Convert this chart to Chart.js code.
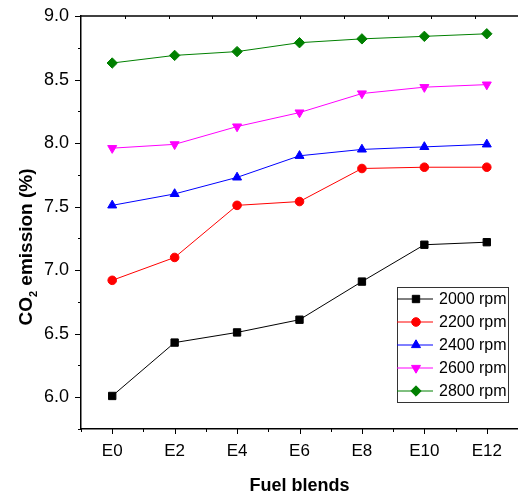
<!DOCTYPE html>
<html>
<head>
<meta charset="utf-8">
<script src="https://cdn.jsdelivr.net/npm/chart.js@4.4.1/dist/chart.umd.min.js"></script>
<style>
    html, body { margin: 0; padding: 0; background: #fff; overflow: hidden; }
    #wrap { width: 518px; height: 498px; }
</style>
</head>
<body>
<div id="wrap"><canvas id="co2Chart"></canvas></div>
<script>
// categories and their positions on the x axis
const blends = ['E0', 'E2', 'E4', 'E6', 'E8', 'E10', 'E12'];
const blendX = [0, 2, 4, 6, 8, 10, 12];

// CO2 emission (%) per engine speed
const rpm2000 = [6.01, 6.43, 6.51, 6.61, 6.91, 7.20, 7.22];
const rpm2200 = [6.92, 7.10, 7.51, 7.54, 7.80, 7.81, 7.81];
const rpm2400 = [7.51, 7.60, 7.73, 7.90, 7.95, 7.97, 7.99];
const rpm2600 = [7.96, 7.99, 8.13, 8.24, 8.39, 8.44, 8.46];
const rpm2800 = [8.63, 8.69, 8.72, 8.79, 8.82, 8.84, 8.86];

const yTicks = [6.0, 6.5, 7.0, 7.5, 8.0, 8.5, 9.0];

const FONT = 'Liberation Sans, Arial, sans-serif';

function series(label, values, color, pointStyle, radius, rotation) {
    return {
        label,
        data: values.map((v, i) => ({ x: blendX[i], y: v })),
        borderColor: color,
        backgroundColor: color,
        borderWidth: 1,
        pointStyle,
        pointRadius: radius,
        pointRotation: rotation || 0,
        pointBorderWidth: 1,
        pointBorderColor: color,
        pointBackgroundColor: color,
        tension: 0
    };
}

const isMajorY = (v) => yTicks.some((t) => Math.abs(t - v) < 1e-6);
const isMajorX = (v) => v % 2 === 0 && v >= 0 && v <= 12;

const decor = {
    id: 'decor',
    afterDraw(chart) {
        const { ctx, chartArea: a, scales: { x, y } } = chart;
        ctx.save();

        // top frame line
        ctx.strokeStyle = '#000';
        ctx.lineWidth = 1.5;
        ctx.beginPath();
        ctx.moveTo(a.left, a.top);
        ctx.lineTo(a.right + 1, a.top);
        ctx.stroke();

        // axis ticks
        ctx.lineWidth = 1;
        ctx.beginPath();
        for (let v = 5.75; v <= 9.0001; v += 0.25) {
            const py = Math.round(y.getPixelForValue(v)) + 0.5;
            ctx.moveTo(a.left, py);
            ctx.lineTo(a.left - (isMajorY(v) ? 6 : 3), py);
        }
        for (let v = -1; v <= 13; v++) {
            const px = Math.round(x.getPixelForValue(v)) + 0.5;
            ctx.moveTo(px, a.bottom);
            ctx.lineTo(px, a.bottom + (isMajorX(v) ? 5 : 3));
        }
        for (let k = 1; k < 10; k++) {
            const px = Math.round(a.left + (a.right + 1 - a.left) * k / 10) + 0.5;
            ctx.moveTo(px, a.top);
            ctx.lineTo(px, a.top + 3);
        }
        ctx.stroke();

        // axis titles
        ctx.fillStyle = '#000';
        ctx.font = 'bold 18px ' + FONT;
        ctx.textAlign = 'center';
        ctx.textBaseline = 'middle';
        ctx.fillText('Fuel blends', (a.left + a.right) / 2, 486);

        ctx.save();
        ctx.translate(27, 247);
        ctx.rotate(-Math.PI / 2);
        ctx.textAlign = 'left';
        ctx.textBaseline = 'middle';
        const big = 'bold 19px ' + FONT;
        const small = 'bold 11px ' + FONT;
        ctx.font = big;
        const w1 = ctx.measureText('CO').width;
        const w3 = ctx.measureText(' emission (%)').width;
        ctx.font = small;
        const w2 = ctx.measureText('2').width;
        let sx = -(w1 + w2 + w3) / 2;
        ctx.font = big;
        ctx.fillText('CO', sx, 0);
        sx += w1;
        ctx.font = small;
        ctx.fillText('2', sx, 7);
        sx += w2;
        ctx.font = big;
        ctx.fillText(' emission (%)', sx, 0);
        ctx.restore();

        // legend
        const lx = 397, ly = 287, lw = 111, lh = 115;
        ctx.strokeStyle = '#333';
        ctx.lineWidth = 1;
        ctx.strokeRect(lx + 0.5, ly + 0.5, lw, lh);
        ctx.font = '16px ' + FONT;
        ctx.textAlign = 'left';
        ctx.textBaseline = 'middle';
        chart.data.datasets.forEach((ds, i) => {
            const cy = ly + 12 + i * 23;
            ctx.strokeStyle = ds.borderColor;
            ctx.lineWidth = 1;
            ctx.beginPath();
            ctx.moveTo(lx, cy);
            ctx.lineTo(lx + 36, cy);
            ctx.stroke();
            ctx.fillStyle = ds.backgroundColor;
            ctx.strokeStyle = ds.borderColor;
            Chart.helpers.drawPoint(ctx, {
                pointStyle: ds.pointStyle,
                rotation: ds.pointRotation,
                radius: ds.pointRadius,
                borderWidth: 1
            }, lx + 19, cy);
            ctx.fillStyle = '#000';
            ctx.fillText(ds.label, lx + 42, cy + 1);
        });

        ctx.restore();
    }
};

new Chart(document.getElementById('co2Chart'), {
    type: 'line',
    data: {
        datasets: [
            series('2000 rpm', rpm2000, '#000000', 'rect', 5.2),
            series('2200 rpm', rpm2200, '#ff0000', 'circle', 4.3),
            series('2400 rpm', rpm2400, '#0000ff', 'triangle', 5.2),
            series('2600 rpm', rpm2600, '#ff00ff', 'triangle', 5.2, 180),
            series('2800 rpm', rpm2800, '#008000', 'rectRot', 5.2)
        ]
    },
    options: {
        responsive: true,
        maintainAspectRatio: false,
        animation: false,
        layout: { autoPadding: false, padding: { top: 16, right: 0, left: 0, bottom: 0 } },
        plugins: {
            legend: { display: false },
            tooltip: { enabled: false }
        },
        scales: {
            x: {
                type: 'linear',
                min: -1,
                max: 13,
                grid: { display: false },
                border: { color: '#000', width: 1.5 },
                ticks: {
                    stepSize: 1,
                    autoSkip: false,
                    maxRotation: 0,
                    padding: 4,
                    color: '#000',
                    font: { family: FONT, size: 17 },
                    callback: (v) => (isMajorX(v) ? blends[v / 2] : '')
                },
                afterFit: (s) => {
                    s.height = 69;
                    s.paddingLeft = 0;
                    s.paddingRight = 0;
                }
            },
            y: {
                min: 5.75,
                max: 9.0,
                grid: { display: false },
                border: { color: '#000', width: 1.5 },
                ticks: {
                    stepSize: 0.25,
                    autoSkip: false,
                    padding: 4,
                    color: '#000',
                    font: { family: FONT, size: 18 },
                    callback: (v) => (isMajorY(v) ? v.toFixed(1) : '')
                },
                afterFit: (s) => {
                    s.width = 81;
                    s.paddingTop = 0;
                    s.paddingBottom = 0;
                }
            }
        }
    },
    plugins: [decor]
});
</script>
</body>
</html>
